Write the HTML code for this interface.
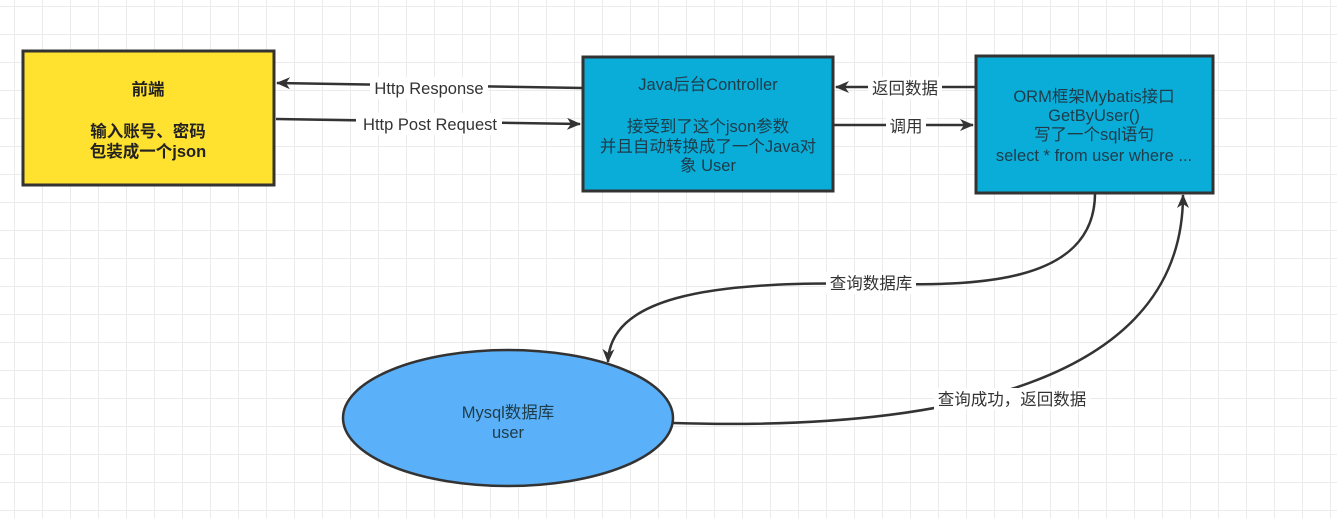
<!DOCTYPE html>
<html><head><meta charset="utf-8"><style>
body{margin:0;width:1337px;height:518px;overflow:hidden;background:#fff;
background-image:linear-gradient(#ebebeb 1px,transparent 1px),linear-gradient(90deg,#ebebeb 1px,transparent 1px);background-size:28px 28px;background-position:14px 6px;
font-family:"Liberation Sans","Noto Sans CJK SC",sans-serif;}
svg{position:absolute;left:0;top:0}
</style></head><body>
<svg width="1337" height="518" viewBox="0 0 1337 518">
<defs><marker id="b" markerWidth="14" markerHeight="12" refX="13" refY="6" orient="auto" markerUnits="userSpaceOnUse"><path d="M0,0 L14,6 L0,12 L4,6z" fill="#333"/></marker></defs>
<rect x="23" y="51" width="251" height="134" fill="#FFE12F" stroke="#333" stroke-width="3"/>
<rect x="583" y="57" width="250" height="134" fill="#0AADD8" stroke="#333" stroke-width="3"/>
<rect x="976" y="56" width="237" height="137" fill="#0AADD8" stroke="#333" stroke-width="3"/>
<ellipse cx="508" cy="418" rx="165" ry="68" fill="#5BB1F9" stroke="#333" stroke-width="2.5"/>
<g stroke="#333" stroke-width="2.5" fill="none">
<path d="M583,88 L277,83" marker-end="url(#b)"/>
<path d="M276,119 L580,124" marker-end="url(#b)"/>
<path d="M976,87 L836,87" marker-end="url(#b)"/>
<path d="M833,125 L973,125" marker-end="url(#b)"/>
<path d="M1095,193 C1095,290 960,285 870,284 C700,280 610,300 608,362" marker-end="url(#b)"/>
<path d="M673,423 C900,430 1183,400 1183,195" marker-end="url(#b)"/>
</g>
<g font-size="16.5" fill="#333" text-anchor="middle">
<rect x="370" y="77" width="118" height="22" fill="#fff"/><text x="429" y="94">Http Response</text>
<rect x="356" y="113" width="146" height="22" fill="#fff"/><text x="430" y="130">Http Post Request</text>
<rect x="868" y="77" width="74" height="22" fill="#fff"/><text x="905" y="94">返回数据</text>
<rect x="886" y="115" width="40" height="22" fill="#fff"/><text x="906" y="132">调用</text>
<rect x="826" y="272" width="90" height="22" fill="#fff"/><text x="871" y="289">查询数据库</text>
<rect x="934" y="388" width="156" height="22" fill="#fff"/><text x="1012" y="405">查询成功，返回数据</text>
</g>
<g font-size="16.5" fill="#222" text-anchor="middle" font-weight="bold">
<text x="148" y="95">前端</text><text x="148" y="137">输入账号、密码</text><text x="148" y="157">包装成一个json</text>
</g>
<g font-size="16.5" fill="#1e3c4a" text-anchor="middle">
<text x="708" y="90">Java后台Controller</text>
<text x="708" y="132">接受到了这个json参数</text>
<text x="708" y="152">并且自动转换成了一个Java对</text>
<text x="708" y="171">象 User</text>
<text x="1094" y="102">ORM框架Mybatis接口</text>
<text x="1094" y="121">GetByUser()</text>
<text x="1094" y="140">写了一个sql语句</text>
<text x="1094" y="161">select * from user where ...</text>
<text x="508" y="418">Mysql数据库</text>
<text x="508" y="438">user</text>
</g>
</svg>
</body></html>
